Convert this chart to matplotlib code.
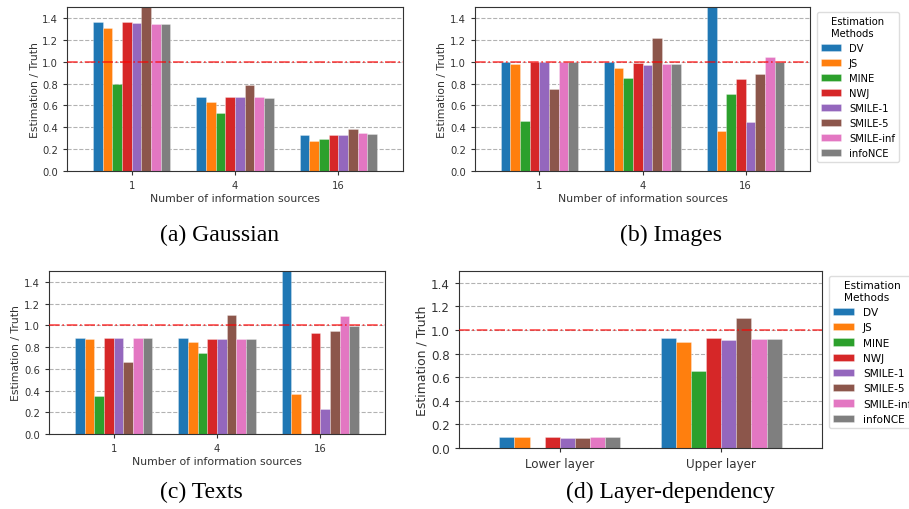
import numpy as np
import matplotlib
matplotlib.use('agg')
import matplotlib.pyplot as plt

methods = ['DV', 'JS', 'MINE', 'NWJ', 'SMILE-1', 'SMILE-5', 'SMILE-inf', 'infoNCE']
colors = ['tab:blue', 'tab:orange', 'tab:green', 'tab:red',
          'tab:purple', 'tab:brown', 'tab:pink', 'tab:gray']

sources = ['1', '4', '16']
layers = ['Lower layer', 'Upper layer']

# rows = method, columns = group (values above 1.5 are clipped by the axis)
gaussian = [
    [1.36, 0.68, 0.33],
    [1.31, 0.63, 0.27],
    [0.80, 0.53, 0.29],
    [1.36, 0.68, 0.33],
    [1.355, 0.68, 0.33],
    [1.60, 0.79, 0.38],
    [1.345, 0.675, 0.345],
    [1.34, 0.67, 0.335],
]
images = [
    [1.00, 1.00, 1.60],
    [0.98, 0.94, 0.37],
    [0.46, 0.85, 0.70],
    [1.00, 0.99, 0.84],
    [1.00, 0.97, 0.45],
    [0.75, 1.22, 0.89],
    [1.00, 0.975, 1.04],
    [0.995, 0.98, 1.00],
]
texts = [
    [0.885, 0.885, 1.60],
    [0.875, 0.845, 0.37],
    [0.35, 0.745, 0.0],
    [0.885, 0.878, 0.93],
    [0.885, 0.878, 0.23],
    [0.665, 1.095, 0.945],
    [0.885, 0.878, 1.09],
    [0.885, 0.878, 0.99],
]
layer_dep = [
    [0.09, 0.935],
    [0.09, 0.90],
    [0.0, 0.65],
    [0.09, 0.93],
    [0.085, 0.915],
    [0.085, 1.10],
    [0.09, 0.92],
    [0.09, 0.92],
]

W, H = 909, 510
fig = plt.figure(figsize=(W / 100, H / 100), dpi=100)


def box(l, t, r, b):
    return [l / W, 1 - b / H, (r - l) / W, (b - t) / H]


def draw_panel(ax, groups, data, xlabel, fs_tick, fs_label, ylab_x):
    x = np.arange(len(groups))
    width = 0.75 / len(methods)
    for i, (m, c) in enumerate(zip(methods, colors)):
        off = (i - (len(methods) - 1) / 2) * width
        ax.bar(x + off, data[i], width, color=c, label=m,
               edgecolor=(1, 1, 1, 0.5), linewidth=0.4, zorder=2)
    ax.axhline(1.0, color='red', linestyle='-.', alpha=0.7, linewidth=1.2, zorder=3)
    ax.set_ylim(0, 1.5)
    ax.set_xlim(-0.625, len(groups) - 1 + 0.625)
    ax.set_yticks(np.arange(0, 1.41, 0.2))
    ax.set_xticks(x)
    ax.set_xticklabels(groups)
    ax.yaxis.grid(True, linestyle='--', color='gray', alpha=0.6, zorder=0)
    ax.set_axisbelow(True)
    ax.tick_params(labelsize=fs_tick, colors='#333333', length=3)
    for s in ax.spines.values():
        s.set_color('#333333')
    ax.set_ylabel('Estimation / Truth', fontsize=fs_label, color='#333333')
    ax.yaxis.set_label_coords(ylab_x, 0.5)
    if xlabel:
        ax.set_xlabel(xlabel, fontsize=fs_label, color='#333333', labelpad=2)


ax_a = fig.add_axes(box(67, 8, 403, 172))
draw_panel(ax_a, sources, gaussian, 'Number of information sources', 7.2, 7.8, -0.08)

ax_b = fig.add_axes(box(475, 8, 810, 172))
draw_panel(ax_b, sources, images, 'Number of information sources', 7.2, 7.8, -0.084)
ax_b.legend(title='Estimation\nMethods', fontsize=7.2, title_fontsize=7.2,
            loc='upper left', bbox_to_anchor=(817 / W, 1 - 13 / H),
            bbox_transform=fig.transFigure, borderaxespad=0, framealpha=1,
            edgecolor='#dddddd')

ax_c = fig.add_axes(box(49, 272, 385, 435))
draw_panel(ax_c, sources, texts, 'Number of information sources', 7.2, 7.8, -0.083)

ax_d = fig.add_axes(box(459, 272, 822, 449))
draw_panel(ax_d, layers, layer_dep, None, 8.6, 9.0, -0.085)
ax_d.legend(title='Estimation\nMethods', fontsize=7.6, title_fontsize=7.6,
            loc='upper left', bbox_to_anchor=(829 / W, 1 - 277 / H),
            bbox_transform=fig.transFigure, borderaxespad=0, framealpha=1,
            edgecolor='#dddddd')

captions = [('(a) Gaussian', 219, 235), ('(b) Images', 671, 235),
            ('(c) Texts', 201, 492), ('(d) Layer-dependency', 670, 492)]
for txt, cx, cy in captions:
    fig.text(cx / W, 1 - cy / H, txt, ha='center', va='center',
             fontsize=17, family='Liberation Serif')

fig.savefig('out.png', dpi=100)
